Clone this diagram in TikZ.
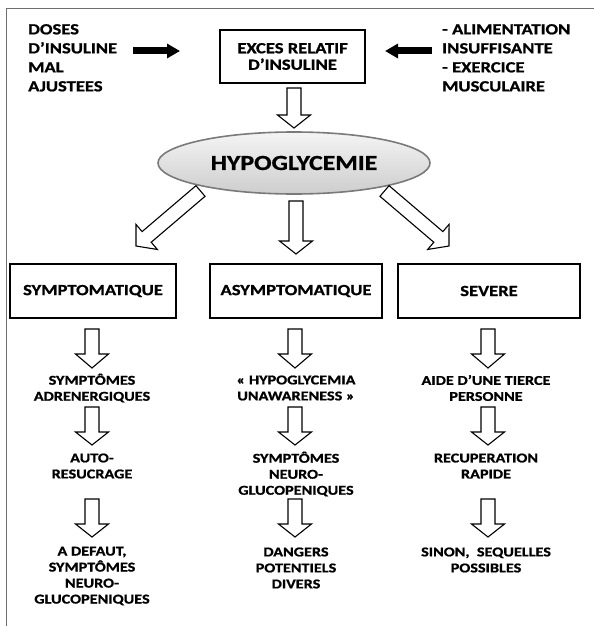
\documentclass[tikz,border=0pt]{standalone}
\usepackage{fontspec}
\setmainfont{Carlito}[FakeStretch=1.2,FakeBold=1]
\usepackage{tikz}
\usetikzlibrary{arrows.meta,positioning,calc,shapes.geometric}
\definecolor{HypoGray}{HTML}{E4E4E4}
\definecolor{HypoEdge}{HTML}{7A7A7A}
\definecolor{FrameGray}{HTML}{6E6E6E}
\tikzset{
  box/.style={draw,line width=1.1pt,inner sep=0pt,align=center,font=\fontsize{15.5}{16.5}\selectfont\bfseries},
  note/.style={inner sep=0pt,align=center,font=\fontsize{13.5}{16}\selectfont\bfseries},
  cause/.style={inner sep=0pt,align=left,anchor=north west,font=\fontsize{15.5}{19}\selectfont\bfseries},
  hollow/.style={draw,line width=1.1pt,fill=white,line join=miter},
  push/.style={line width=7pt,-{Triangle[length=13pt,width=14pt]}}
}
\newcommand{\fatarrow}[3][13pt]{%
  \coordinate (hb) at ($(#3)!#1!(#2)$);
  \draw[hollow] ($(#2)!7pt!90:(#3)$) -- ($(hb)!7pt!-90:(#2)$) -- ($(hb)!16.5pt!-90:(#2)$) -- (#3)
    -- ($(hb)!16.5pt!90:(#2)$) -- ($(hb)!7pt!90:(#2)$) -- ($(#2)!7pt!-90:(#3)$) -- cycle;}
\begin{document}
\begin{tikzpicture}[x=1pt,y=-1pt]
\useasboundingbox (0,0) rectangle (594,626);
\draw[FrameGray,line width=1.3pt] (6.5,626)--(6.5,8.5)--(594,8.5);
\node[cause] (doses) at (28,24) {DOSES\\D’INSULINE\\MAL\\AJUSTEES};
\node[cause] (alim) at (442,24) {- ALIMENTATION\\INSUFFISANTE\\- EXERCICE\\MUSCULAIRE};
\node[box,minimum width=145pt,minimum height=53pt] (exces) at (292.5,56.5) {EXCES RELATIF\\D’INSULINE};
\coordinate (d0) at (133,51);
\coordinate (d1) at (180,51);
\coordinate (a0) at (432,51);
\coordinate (a1) at (385,51);
\draw[push] (d0)--(d1);
\draw[push] (a0)--(a1);
\node[ellipse,draw=HypoEdge,line width=1.6pt,top color=HypoGray!40,bottom color=HypoGray!90!black,minimum width=272pt,minimum height=62pt,inner sep=0pt,font=\fontsize{21.5}{24}\selectfont\bfseries] (hypo) at (294,163) {HYPOGLYCEMIE};
\node[box,minimum width=166pt,minimum height=54pt] (symp) at (93,291) {SYMPTOMATIQUE};
\node[box,minimum width=172pt,minimum height=54pt] (asymp) at (296,291) {ASYMPTOMATIQUE};
\node[box,minimum width=182pt,minimum height=54pt] (severe) at (489,291) {SEVERE};
\node[note] (s1) at (92,388) {SYMPTÔMES\\ADRENERGIQUES};
\node[note] (s2) at (296,388) {« HYPOGLYCEMIA\\UNAWARENESS »};
\node[note] (s3) at (486,388) {AIDE D’UNE TIERCE\\PERSONNE};
\node[note] (r1) at (92,466) {AUTO-\\RESUCRAGE};
\node[note] (r2) at (296,474) {SYMPTÔMES\\NEURO-\\GLUCOPENIQUES};
\node[note] (r3) at (486,466) {RECUPERATION\\RAPIDE};
\node[note] (e1) at (92,576) {A DEFAUT,\\SYMPTÔMES\\NEURO-\\GLUCOPENIQUES};
\node[note] (e2) at (296,568) {DANGERS\\POTENTIELS\\DIVERS};
\node[note] (e3) at (486,560) {SINON,~~SEQUELLES\\POSSIBLES};
\coordinate (t0) at (294,88);
\coordinate (t1) at (294,128);
\coordinate (l0) at (200.5,191);
\coordinate (l1) at (136,246);
\coordinate (m0) at (296,201);
\coordinate (m1) at (296,254);
\coordinate (q0) at (384.5,191);
\coordinate (q1) at (449,246);
\fatarrow{t0}{t1}
\fatarrow[14pt]{l0}{l1}
\fatarrow{m0}{m1}
\fatarrow[14pt]{q0}{q1}
\foreach \col/\x in {1/92,2/295,3/488}{
  \coordinate (c\col a) at (\x,329);
  \coordinate (c\col b) at (\x,368);
  \coordinate (c\col c) at (\x,407);
  \coordinate (c\col d) at (\x,445);
  \coordinate (c\col e) at (\x,499);
  \coordinate (c\col f) at (\x,537);
  \fatarrow[14pt]{c\col a}{c\col b}
  \fatarrow[13pt]{c\col c}{c\col d}
  \fatarrow[13pt]{c\col e}{c\col f}
}
\end{tikzpicture}
\end{document}
